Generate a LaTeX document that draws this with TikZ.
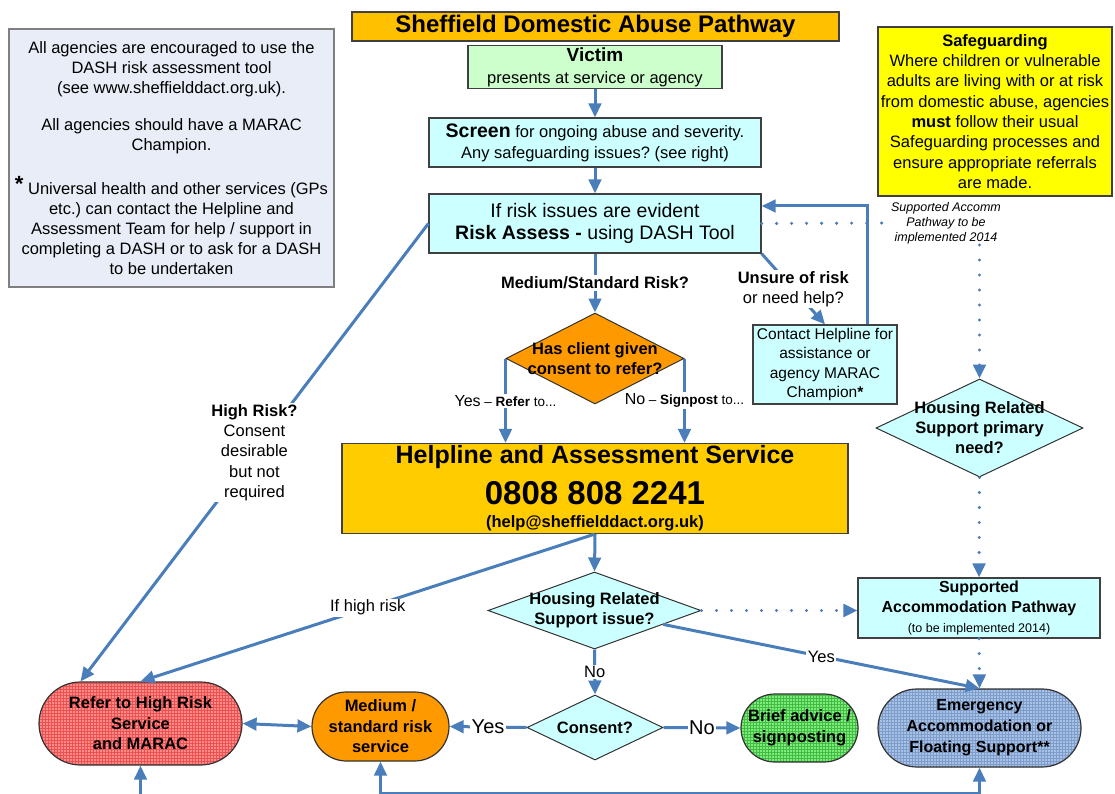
\documentclass[tikz,border=0pt]{standalone}
\usepackage{fontspec}
\setmainfont{Liberation Sans}
\usepackage{tikz}
\usetikzlibrary{arrows.meta,shapes.geometric,patterns}
\usepackage{xcolor}
\definecolor{lineblue}{HTML}{4A7EBB}
\definecolor{titlegold}{HTML}{FFC000}
\definecolor{helpgold}{HTML}{FFCC00}
\definecolor{riskorange}{HTML}{FF9900}
\definecolor{paleaqua}{HTML}{CCFFFF}
\definecolor{palegreen}{HTML}{CCFFCC}
\definecolor{infobg}{HTML}{E8EDF7}
\definecolor{infoline}{HTML}{7F7F7F}
\definecolor{safeyellow}{HTML}{FFFF00}
\definecolor{hiredfill}{HTML}{FF8A8A}
\definecolor{hiredgrid}{HTML}{EA5252}
\definecolor{advgreenfill}{HTML}{7CEC7C}
\definecolor{advgreengrid}{HTML}{44BC44}
\definecolor{accbluefill}{HTML}{A8C2E4}
\definecolor{accbluegrid}{HTML}{7F9DCC}
\newcommand{\fsz}[2]{\fontsize{#1}{#2}\selectfont}
\frenchspacing

\begin{document}
\begin{tikzpicture}[x=1pt, y=-1pt,
    box/.style={rectangle, draw=black!75, line width=1.2pt, align=center, inner sep=2pt, font=\fsz{16.5}{20}},
    decision/.style={diamond, draw=black!80, line width=1pt, inner sep=0pt, fill=paleaqua},
    qtext/.style={font=\fsz{16.5}{20}\bfseries, align=center},
    terminal/.style={rectangle, draw=black!80, line width=1.2pt, align=center, font=\fsz{16.5}{20.5}\bfseries},
    flow/.style={->, draw=lineblue, line width=3pt},
    dotflow/.style={->, draw=lineblue, line width=3.4pt, line cap=round, dash pattern=on 0pt off 15pt},
    lbl/.style={fill=white, inner sep=1.5pt, align=center, font=\fsz{16.5}{20.3}},
    >={Triangle[length=14pt,width=12.5pt]}
]
\fill[white] (0,0) rectangle (1115,794);
\useasboundingbox (0,0) rectangle (1115,794);

% top of the pathway
\node[box, fill=titlegold, inner sep=0pt, minimum width=487pt, minimum height=29pt, font=\fsz{24}{26}\bfseries] (title) at (595.5,26.5) {Sheffield Domestic Abuse Pathway};
\node[box, fill=infobg, draw=infoline, minimum width=325pt, minimum height=258pt] (info) at (171.5,158)
  {All agencies are encouraged to use the\\DASH risk assessment tool\\(see www.sheffielddact.org.uk).\\[17pt]All agencies should have a MARAC\\Champion.\\[22pt]\raisebox{3pt}{\fsz{22}{22}\bfseries *} Universal health and other services (GPs\\etc.) can contact the Helpline and\\Assessment Team for help / support in\\completing a DASH or to ask for a DASH\\to be undertaken};
\node[box, fill=safeyellow, minimum width=234pt, minimum height=169pt, font=\fsz{16.5}{20.3}] (safeguard) at (995,111.5)
  {\textbf{Safeguarding}\\Where children or vulnerable\\adults are living with or at risk\\from domestic abuse, agencies\\\textbf{must} follow their usual\\Safeguarding processes and\\ensure appropriate referrals\\are made.};
\node[box, fill=palegreen, minimum width=254pt, minimum height=40pt, font=\fsz{16.5}{22}] (victim) at (595,67) {{\fsz{19}{20}\bfseries Victim}\\presents at service or agency};
\node[box, fill=paleaqua, minimum width=332pt, minimum height=49pt, font=\fsz{16.5}{21}] (screen) at (595,142.5) {{\fsz{19.5}{20}\bfseries Screen} for ongoing abuse and severity.\\Any safeguarding issues? (see right)};
\node[box, fill=paleaqua, minimum width=332pt, minimum height=59pt, font=\fsz{19.5}{21.5}] (risk) at (595,223.5) {If risk issues are evident\\\textbf{Risk Assess -} using DASH Tool};
\node[align=center, inner sep=1pt, font=\fsz{12.5}{15}\itshape] (note) at (946,223) {Supported Accomm\\Pathway to be\\implemented 2014};
\node[box, fill=paleaqua, minimum width=144pt, minimum height=79pt, font=\fsz{15.5}{19.5}] (contact) at (825,364.5) {Contact Helpline for\\assistance or\\agency MARAC\\Champion\textbf{*}};

% decisions and services
\node[decision, fill=riskorange, minimum width=178pt, minimum height=91pt, label={[qtext]center:{Has client given\\consent to refer?}}] (consentq) at (595,358.5) {};
\node[box, fill=helpgold, minimum width=506pt, minimum height=87pt, font=\fsz{16.5}{23}\bfseries] (helpline) at (595,488.5)
  {{\fsz{25}{28}Helpline and Assessment Service}\\[12pt]{\fsz{33}{34}0808 808 2241}\\(help@sheffielddact.org.uk)};
\node[decision, minimum width=207pt, minimum height=98pt, label={[qtext]center:{Housing Related\\Support primary\\need?}}] (hrsprim) at (979.5,428) {};
\node[box, fill=paleaqua, minimum width=242pt, minimum height=60pt, font=\fsz{16}{20}] (sap) at (979,608) {\textbf{Supported}\\\textbf{Accommodation Pathway}\\{\fsz{12.5}{14}(to be implemented 2014)}};
\node[decision, minimum width=213pt, minimum height=77pt, label={[qtext]center:{Housing Related\\Support issue?}}] (hrsq) at (594.5,610.5) {};
\node[decision, minimum width=136pt, minimum height=65pt, label={[qtext]center:{Consent?}}] (consent) at (595,727.5) {};

\node[terminal, rounded corners=41.5pt, minimum width=203pt, minimum height=83pt, preaction={fill=hiredfill}, pattern=grid, pattern color=hiredgrid] (highrisk) at (140.5,723.5) {Refer to High Risk\\Service\\and MARAC};
\node[terminal, rounded corners=34.5pt, minimum width=137pt, minimum height=69pt, fill=riskorange] (medium) at (380.5,726.5) {Medium /\\standard risk\\service};
\node[terminal, rounded corners=34pt, minimum width=117pt, minimum height=68pt, preaction={fill=advgreenfill}, pattern=grid, pattern color=advgreengrid] (brief) at (799.5,728) {Brief advice /\\signposting};
\node[terminal, rounded corners=39pt, minimum width=203pt, minimum height=78pt, preaction={fill=accbluefill}, pattern=grid, pattern color=accbluegrid, font=\fsz{16}{21}\bfseries] (emerg) at (979.5,728) {Emergency\\Accommodation or\\Floating Support**};

% connectors
\draw[flow] (victim) -- (screen);
\draw[flow] (screen) -- (risk);
\draw[flow] (risk.south) -- node[lbl, font=\fsz{16.5}{20}\bfseries] (lblmed) {Medium/Standard Risk?} (consentq.north);
\draw[flow] (consentq.west) -- node[lbl, font=\fsz{13.5}{16}] (lblrefer) {{\fsz{16}{18}Yes} – \textbf{Refer} to...} (consentq.west |- helpline.north);
\draw[flow] (consentq.east) -- node[lbl, font=\fsz{13.5}{16}] (lblsign) {{\fsz{16}{18}No} – \textbf{Signpost} to...} (consentq.east |- helpline.north);
\draw[flow] (risk.south east) -- node[lbl] (lblunsure) {\textbf{Unsure of risk}\\or need help?} (contact.north);
\draw[flow] ([xshift=42pt]contact.north) |- ([yshift=17.5pt]risk.east);
\draw[dotflow, -] (risk.east) -- (note.west);
\draw[dotflow] (note.south -| hrsprim.north) -- (hrsprim.north);
\draw[dotflow] (hrsprim.south) -- (sap.north);
\draw[dotflow] (sap.south) -- (emerg.north);
\draw[flow] (risk.west) -- node[lbl] (lblhigh) {\textbf{High Risk?}\\Consent\\desirable\\but not\\required} ([xshift=-60pt]highrisk.north);
\draw[flow] (helpline.south) -- (hrsq.north);
\draw[flow] (helpline.south) -- node[lbl] (lblifhigh) {If high risk} (highrisk.north);
\draw[dotflow] (hrsq.east) -- (sap.west |- hrsq.east);
\draw[flow] (hrsq) -- node[lbl] (lblhyes) {Yes} (emerg.north);
\draw[flow] (hrsq.south) -- node[lbl] (lblhno) {No} (consent.north);
\draw[flow] (consent.west) -- node[lbl, font=\fsz{20}{22}] (lblcyes) {Yes} (medium.east);
\draw[flow] (consent.east) -- node[lbl, font=\fsz{20}{22}] (lblcno) {No} (brief.west);
\draw[flow, <->] (highrisk.east) -- (medium.west);
\coordinate (hrfoot) at (140.5,805);
\draw[flow] (hrfoot) -- (highrisk.south);
\coordinate (basey) at (0,793);
\draw[flow, <->] (medium.south) -- (medium.south |- basey) -| (emerg.south);
\end{tikzpicture}
\end{document}
